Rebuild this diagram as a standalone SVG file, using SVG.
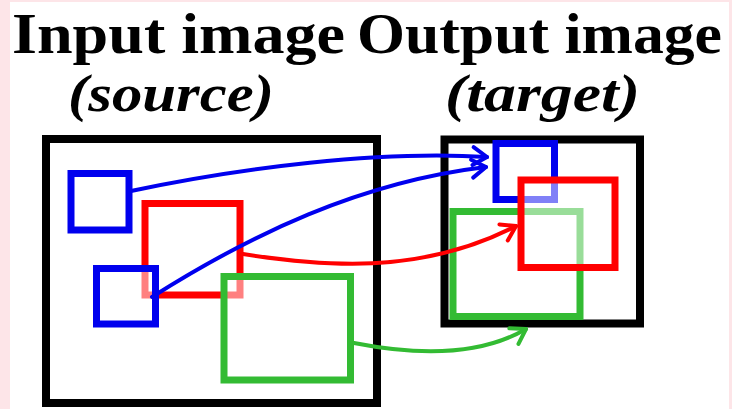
<svg xmlns="http://www.w3.org/2000/svg" width="732" height="409" viewBox="0 0 732 409">
  <defs>
    <style>
      .title { font-family: "Liberation Serif", "Times New Roman", serif; font-weight: bold; fill: #000; }
      .it { font-style: italic; }
      .frame { fill: #ffffff; stroke: #000; stroke-width: 8; }
      .box { fill: #ffffff; fill-opacity: 0.5; stroke-width: 7; }
      .blue { stroke: #0000ee; }
      .red { stroke: #ff0000; }
      .green { stroke: #33bb33; }
      .conn { fill: none; stroke-width: 4; stroke-linecap: round; }
    </style>
    <marker id="arB" markerUnits="userSpaceOnUse" markerWidth="30" markerHeight="30" refX="0" refY="0" viewBox="-15 -15 30 30" orient="auto" overflow="visible">
      <path d="M-14,-9 L0,0 L-14,9" fill="none" stroke="#0000ee" stroke-width="4" stroke-linecap="round" stroke-linejoin="round"/>
    </marker>
    <marker id="arR" markerUnits="userSpaceOnUse" markerWidth="30" markerHeight="30" refX="0" refY="0" viewBox="-15 -15 30 30" orient="auto" overflow="visible">
      <path d="M-14,-9 L0,0 L-14,9" fill="none" stroke="#ff0000" stroke-width="4" stroke-linecap="round" stroke-linejoin="round"/>
    </marker>
    <marker id="arG" markerUnits="userSpaceOnUse" markerWidth="30" markerHeight="30" refX="0" refY="0" viewBox="-15 -15 30 30" orient="auto" overflow="visible">
      <path d="M-14,-9 L0,0 L-14,9" fill="none" stroke="#33bb33" stroke-width="4" stroke-linecap="round" stroke-linejoin="round"/>
    </marker>
  </defs>

  <rect x="0" y="0" width="732" height="409" fill="#fde5e8"/>
  <rect x="10" y="2" width="719" height="407" fill="#ffffff"/>

  <g id="titles">
    <text class="title" x="12" y="53" font-size="58" textLength="333" lengthAdjust="spacingAndGlyphs">Input image</text>
    <text class="title" x="357" y="53" font-size="58" textLength="365" lengthAdjust="spacingAndGlyphs">Output image</text>
    <text class="title it" x="68" y="111" font-size="52" textLength="206" lengthAdjust="spacingAndGlyphs">(source)</text>
    <text class="title it" x="445" y="111" font-size="52" textLength="195" lengthAdjust="spacingAndGlyphs">(target)</text>
  </g>

  <g id="input-image">
    <rect class="frame" x="46" y="139" width="331" height="264"/>
  </g>
  <g id="output-image">
    <rect class="frame" x="444.5" y="139.5" width="195.5" height="184"/>
  </g>

  <g id="src-red">
    <rect class="box red" x="145" y="203.5" width="95" height="91.5"/>
  </g>
  <g id="src-blue1">
    <rect class="box blue" x="71" y="173.5" width="58" height="56.5"/>
  </g>
  <g id="src-blue2">
    <rect class="box blue" x="96.5" y="268.5" width="59" height="55.5"/>
  </g>
  <g id="src-green">
    <rect class="box green" x="224" y="276.5" width="126.5" height="103.5"/>
  </g>

  <g id="tgt-blue">
    <rect class="box blue" x="496" y="143.5" width="58.5" height="56"/>
  </g>
  <g id="tgt-green">
    <rect class="box green" x="453" y="211.5" width="127" height="105"/>
  </g>
  <g id="tgt-red">
    <rect class="box red" x="521" y="180" width="94" height="87.5"/>
  </g>

  <g id="connectors">
    <path class="conn blue" d="M131,191 C240,168 380,150 487,157" marker-end="url(#arB)"/>
    <path class="conn blue" d="M152,297 C250,235 360,182 486,167" marker-end="url(#arB)"/>
    <path class="conn red" d="M243,254 C320,266 420,276 516,226" marker-end="url(#arR)"/>
    <path class="conn green" d="M354,343 C420,356 480,356 526,329" marker-end="url(#arG)"/>
  </g>
</svg>
